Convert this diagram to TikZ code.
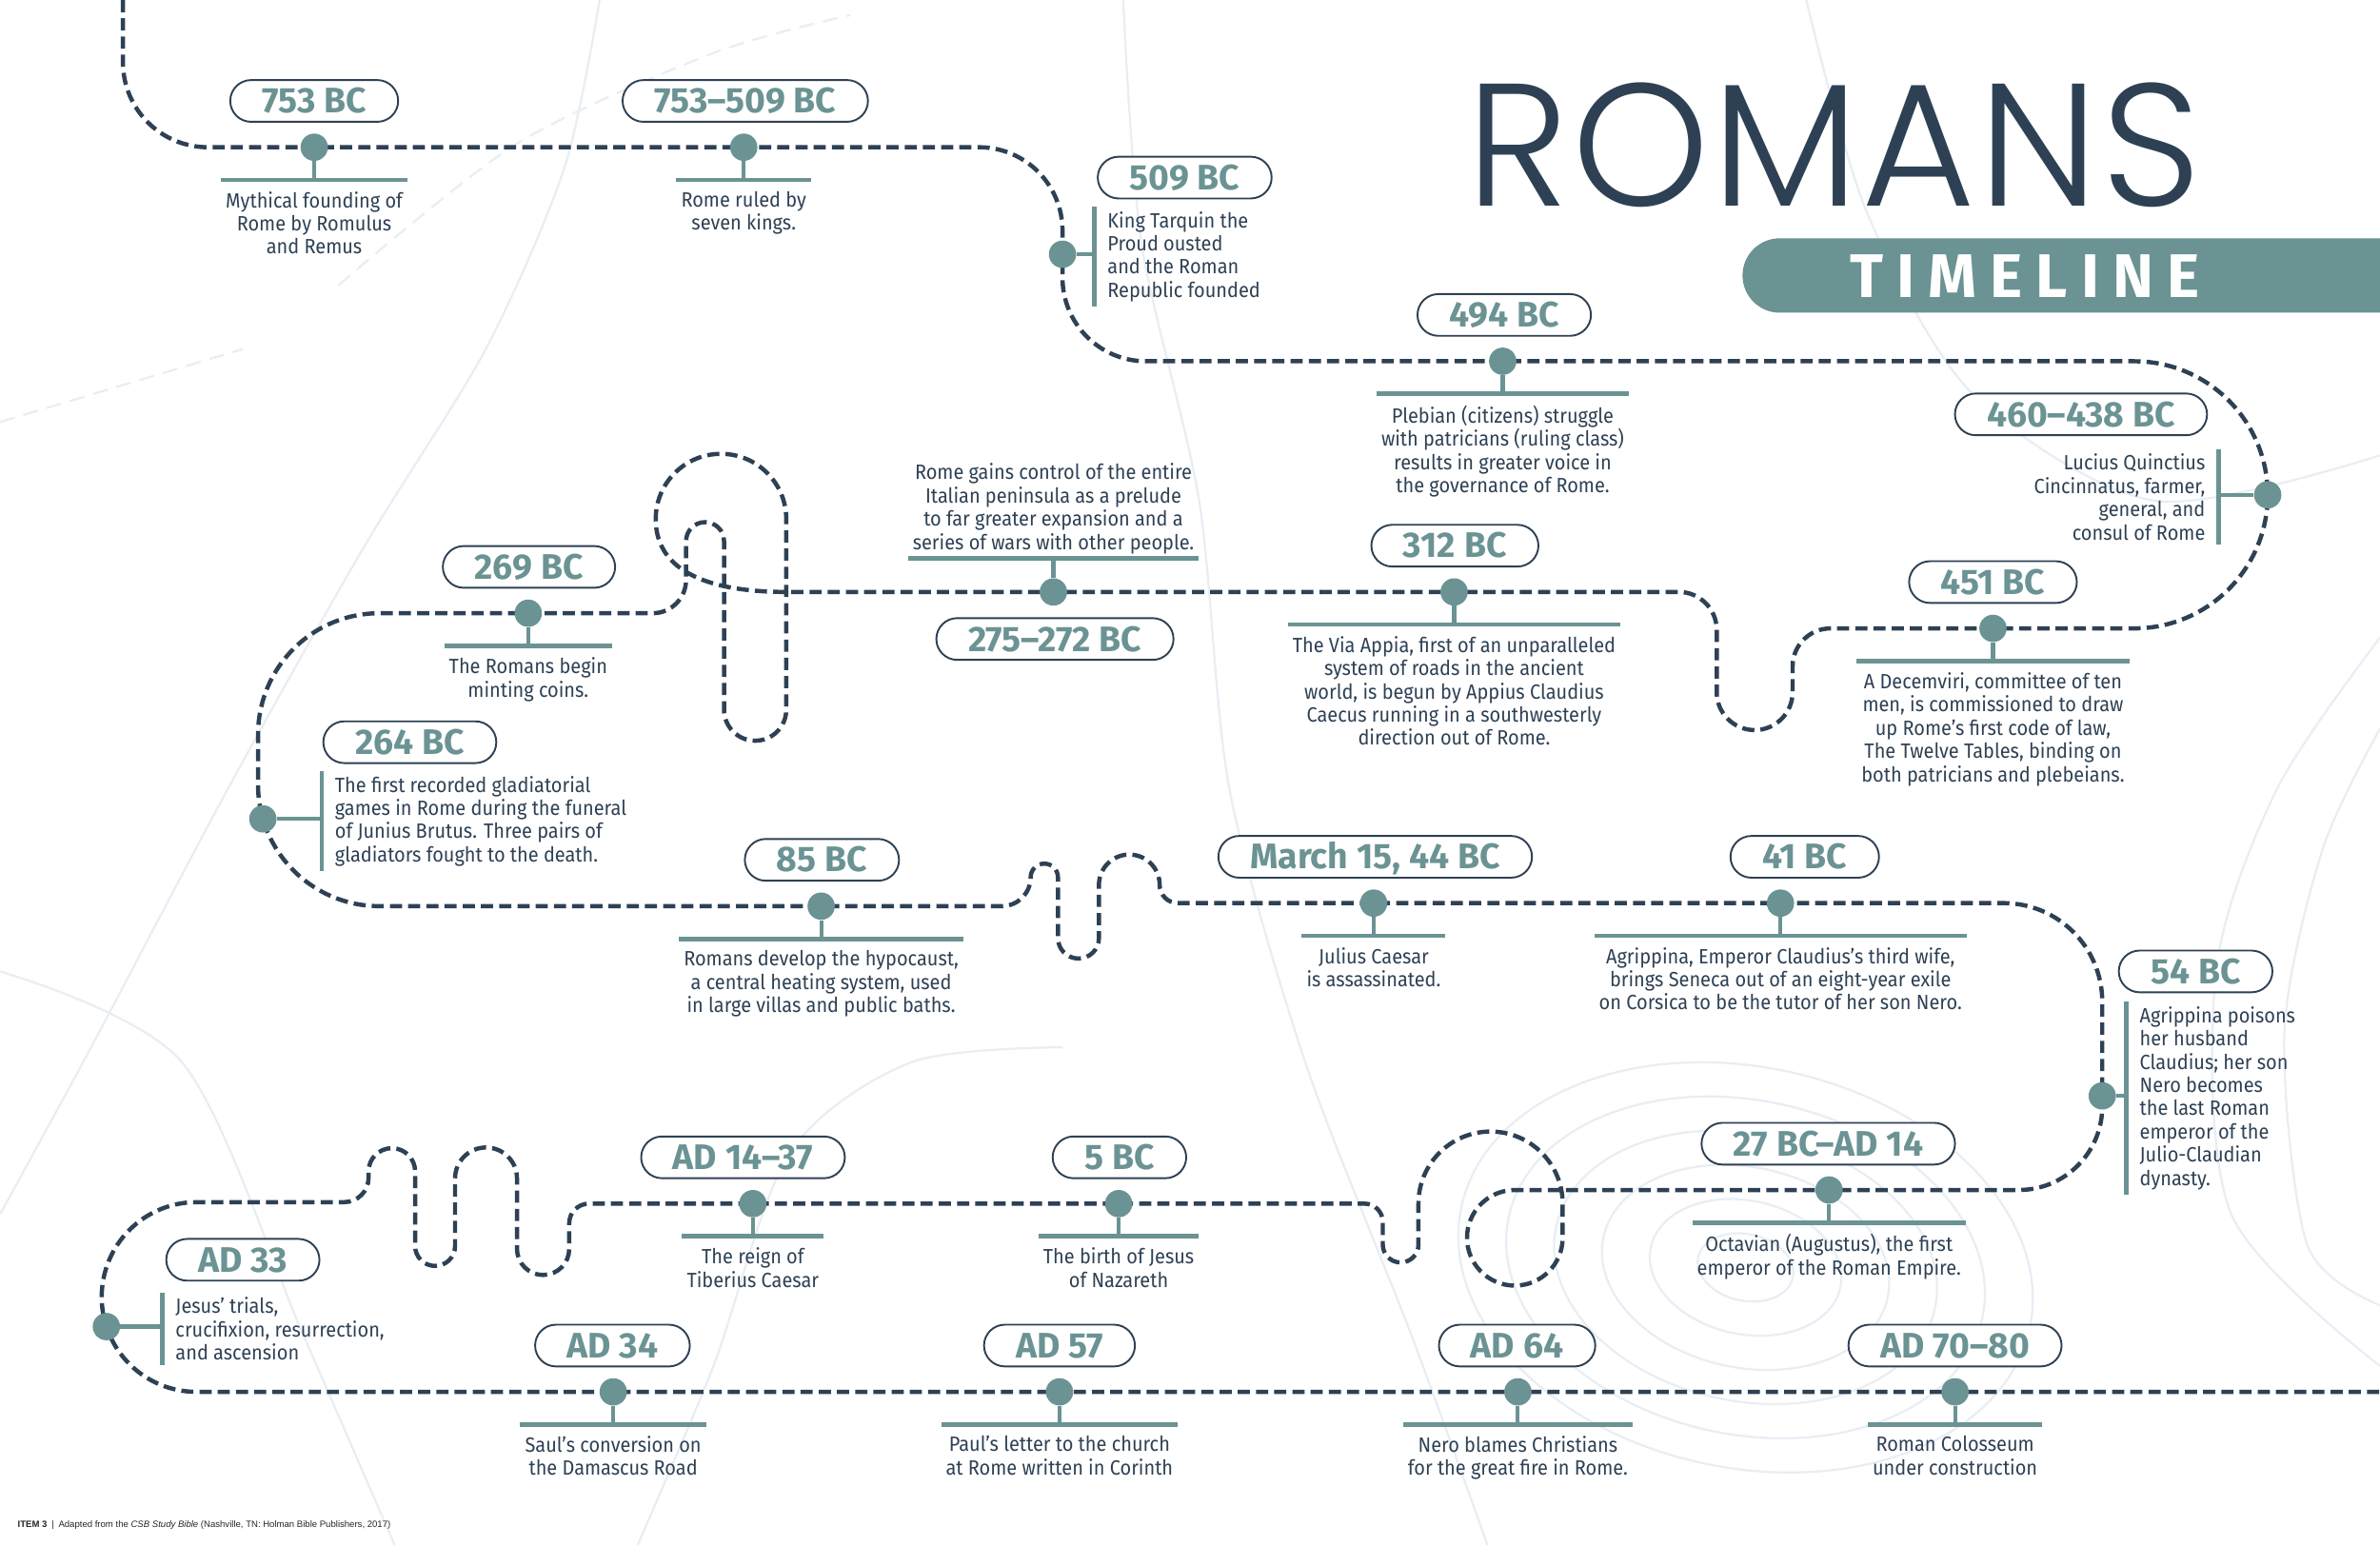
\documentclass[tikz,border=0pt]{standalone}
\usepackage{fontspec}
\setmainfont{Fira Sans}
\newfontfamily\bodyfont{Fira Sans}[FakeStretch=0.92]
\newfontfamily\bannerfont{Fira Sans}[LetterSpace=22]
\newfontfamily\titlefont{Poppins Light}[LetterSpace=1.6]
\newfontfamily\notefont{Liberation Sans}

\definecolor{trailblue}{HTML}{2E4154}
\definecolor{markteal}{HTML}{6B9393}
\definecolor{contourblue}{HTML}{E8EEF4}

\tikzset{
    trail/.style={draw=trailblue, line width=2.8pt, dash pattern=on 8pt off 4pt},
    dot/.style={circle, fill=markteal, inner sep=0pt, minimum size=18pt},
    stem/.style={draw=markteal, line width=2.6pt},
    bar/.style={draw=markteal, line width=3pt, shorten <=-3pt, shorten >=-3pt},
    date/.style={draw=trailblue, line width=1.2pt, fill=white, rounded corners=13.75pt,
        minimum height=27.5pt, inner xsep=21pt, inner ysep=0pt, text height=16pt,
        text depth=0pt, text=markteal, font=\fontsize{23.4}{24}\selectfont\bfseries},
    desc/.style={inner sep=0pt, text=trailblue, font=\bodyfont\fontsize{13.6}{15.3}\selectfont},
    contour/.style={draw=contourblue, line width=1.4pt},
}
% event with its text under the trail
\newcommand{\eventbelow}[6]{
    \node[dot] (m#1) at (#2,#3) {};
    \node[date] (d#1) at (#4,#3-30.5) {#5};
    \coordinate (b#1) at (#2,#3+21.5);
    \node[desc, align=center, anchor=north] (t#1) at (#2,#3+29) {#6};
    \draw[stem] (m#1.south) -- (b#1);
    \draw[bar] (t#1.west |- b#1) -- (t#1.east |- b#1);
}
% event with its text to the right of the trail
\newcommand{\eventright}[8]{
    \node[dot] (m#1) at (#2,#3) {};
    \node[date] (d#1) at (#5,#6) {#7};
    \coordinate (b#1) at (#4,#3);
    \node[desc, align=left, anchor=west] (t#1) at (#4+8.5,#3+1.5) {#8};
    \draw[stem] (m#1.east) -- (b#1);
    \draw[bar] (b#1 |- t#1.north) -- (b#1 |- t#1.south);
}

\begin{document}
\begin{tikzpicture}[x=1pt, y=-1pt]

    \fill[white] (0,0) rectangle (1568,1018);
    \useasboundingbox (0,0) rectangle (1568,1018);

    % faint map contours
    \foreach \r in {22,44,...,132} {
        \draw[contour, rotate around={-12:(1150,835)}] (1150,835) ellipse[x radius=1.45*\r pt, y radius=\r pt];
    }
    \draw[contour] plot[smooth] coordinates {(395,0) (372,110) (320,230) (240,360) (150,520) (60,690) (0,800)};
    \draw[contour] plot[smooth] coordinates {(740,0) (752,160) (790,330) (810,520) (860,700) (930,880) (980,1018)};
    \draw[contour] plot[smooth] coordinates {(1190,0) (1230,140) (1300,260) (1420,330) (1568,300)};
    \draw[contour] plot[smooth] coordinates {(1568,420) (1500,520) (1460,640) (1470,800) (1568,900)};
    \draw[contour] plot[smooth] coordinates {(1568,480) (1530,560) (1505,680) (1520,820) (1568,860)};
    \draw[contour] plot[smooth] coordinates {(0,640) (120,700) (200,880) (260,1018)};
    \draw[contour] plot[smooth] coordinates {(420,1018) (470,900) (520,760) (600,700) (700,690)};
    \draw[contour, dash pattern=on 10pt off 6pt] plot[smooth] coordinates {(0,278) (160,230)};
    \draw[contour, dash pattern=on 10pt off 6pt] plot[smooth] coordinates {(223,188) (340,95) (470,35) (560,10)};

    % the winding trail
    \draw[trail] (81,0) -- (81,41) arc[start angle=180, end angle=270, radius=56pt]
        -- (645,97) arc[start angle=90, end angle=0, radius=55pt]
        -- (700,183) arc[start angle=180, end angle=270, radius=55pt]
        -- (1406,238) arc[start angle=90, end angle=-90, radius=88pt]
        -- (1206,414) arc[start angle=90, end angle=180, radius=25pt]
        -- (1181,456) arc[start angle=0, end angle=-180, radius=25pt]
        -- (1131,415) arc[start angle=0, end angle=90, radius=25pt]
        -- (518,390) .. controls (470,390) and (432,378) .. (432,342)
        arc[start angle=180, end angle=0, radius=43pt]
        -- (518,467.5) arc[start angle=0, end angle=-180, radius=20.5pt]
        -- (477,356.5) arc[start angle=0, end angle=180, radius=12.5pt]
        -- (452,382) arc[start angle=0, end angle=-90, radius=22pt]
        -- (250,404) arc[start angle=90, end angle=180, radius=80pt]
        -- (170,517) arc[start angle=180, end angle=270, radius=80pt]
        -- (660,597) arc[start angle=-90, end angle=0, radius=19pt]
        arc[start angle=180, end angle=0, radius=9pt]
        -- (697,618) arc[start angle=180, end angle=360, radius=13.5pt]
        -- (724,583) arc[start angle=180, end angle=0, radius=20pt]
        arc[start angle=180, end angle=270, radius=12pt]
        -- (1320,595) arc[start angle=90, end angle=0, radius=65pt]
        -- (1385,729) arc[start angle=0, end angle=-90, radius=55pt]
        -- (998,784) arc[start angle=90, end angle=360, radius=31.5pt]
        -- (1029.5,793) arc[start angle=0, end angle=180, radius=47.5pt]
        -- (934.5,820) arc[start angle=0, end angle=-180, radius=11.75pt]
        -- (911,805) arc[start angle=0, end angle=90, radius=12pt]
        -- (388,793) arc[start angle=90, end angle=180, radius=13pt]
        -- (375,822.8) arc[start angle=0, end angle=-180, radius=17.2pt]
        -- (340.6,776.4) arc[start angle=0, end angle=180, radius=20.4pt]
        -- (299.8,820.9) arc[start angle=0, end angle=-180, radius=13.15pt]
        -- (273.5,771.8) arc[start angle=0, end angle=180, radius=15.35pt]
        -- (242.8,776) arc[start angle=0, end angle=-90, radius=16pt]
        -- (129.5,792) arc[start angle=90, end angle=270, radius=62.5pt]
        -- (1580,917);

    % title
    \node[anchor=base west, inner sep=0pt, text depth=0pt, text=trailblue, font=\titlefont\fontsize{115}{115}\selectfont] (title) at (966,136) {ROMANS};
    \fill[markteal] (1568,157) -- (1172.5,157) arc[start angle=90, end angle=270, radius=24.5pt] -- (1568,206) -- cycle;
    \node[anchor=base, inner sep=0pt, text depth=0pt, text=white, font=\bannerfont\fontsize{40.6}{41}\selectfont\bfseries] (banner) at (1334,196) {TIMELINE};

    % events along the trail
    \eventbelow{founding}{207}{97}{207}{753 BC}{Mythical founding of\\Rome by Romulus\\and Remus}
    \eventbelow{kings}{490}{97}{491}{753–509 BC}{Rome ruled by\\seven kings.}
    \eventright{republic}{700}{167.5}{721}{780.5}{117}{509 BC}{King Tarquin the\\Proud ousted\\and the Roman\\Republic founded}
    \eventbelow{plebs}{990}{238}{991}{494 BC}{Plebian (citizens) struggle\\with patricians (ruling class)\\results in greater voice in\\the governance of Rome.}

    \node[dot] (mcinc) at (1494,326) {};
    \node[date] (dcinc) at (1371,273) {460–438 BC};
    \coordinate (bcinc) at (1461.5,326);
    \node[desc, align=right, anchor=east] (tcinc) at (1453,327.5) {Lucius Quinctius\\Cincinnatus, farmer,\\general, and\\consul of Rome};
    \draw[stem] (mcinc.west) -- (bcinc);
    \draw[bar] (bcinc |- tcinc.north) -- (bcinc |- tcinc.south);

    \eventbelow{decemviri}{1313}{414}{1313}{451 BC}{A Decemviri, committee of ten\\men, is commissioned to draw\\up Rome’s first code of law,\\The Twelve Tables, binding on\\both patricians and plebeians.}
    \eventbelow{appia}{958}{390}{958.5}{312 BC}{The Via Appia, first of an unparalleled\\system of roads in the ancient\\world, is begun by Appius Claudius\\Caecus running in a southwesterly\\direction out of Rome.}

    \node[dot] (mitaly) at (694,390) {};
    \node[date] (ditaly) at (695,421) {275–272 BC};
    \coordinate (bitaly) at (694,368);
    \node[desc, align=center, anchor=south] (titaly) at (694,365) {Rome gains control of the entire\\Italian peninsula as a prelude\\to far greater expansion and a\\series of wars with other people.};
    \draw[stem] (mitaly.north) -- (bitaly);
    \draw[bar] (titaly.west |- bitaly) -- (titaly.east |- bitaly);

    \eventbelow{coins}{348}{404}{348.5}{269 BC}{The Romans begin\\minting coins.}
    \eventright{games}{173.2}{539.5}{212}{270}{489}{264 BC}{The first recorded gladiatorial\\games in Rome during the funeral\\of Junius Brutus. Three pairs of\\gladiators fought to the death.}
    \eventbelow{hypocaust}{541}{597}{541.5}{85 BC}{Romans develop the hypocaust,\\a central heating system, used\\in large villas and public baths.}
    \eventbelow{caesar}{905}{595}{906}{March 15, 44 BC}{Julius Caesar\\is assassinated.}
    \eventbelow{seneca}{1173}{595}{1189}{41 BC}{Agrippina, Emperor Claudius’s third wife,\\brings Seneca out of an eight-year exile\\on Corsica to be the tutor of her son Nero.}
    \eventright{claudius}{1385}{722}{1401}{1446.5}{640}{54 BC}{Agrippina poisons\\her husband\\Claudius; her son\\Nero becomes\\the last Roman\\emperor of the\\Julio-Claudian\\dynasty.}
    \eventbelow{octavian}{1205}{784}{1204.5}{27 BC–AD 14}{Octavian (Augustus), the first\\emperor of the Roman Empire.}
    \eventbelow{nativity}{737}{793}{737.5}{5 BC}{The birth of Jesus\\of Nazareth}
    \eventbelow{tiberius}{496}{793}{489.5}{AD 14–37}{The reign of\\Tiberius Caesar}
    \eventright{passion}{70.1}{874}{107}{160}{830}{AD 33}{Jesus’ trials,\\crucifixion, resurrection,\\and ascension}
    \eventbelow{saul}{404}{917}{403.5}{AD 34}{Saul’s conversion on\\the Damascus Road}
    \eventbelow{letter}{698}{917}{698}{AD 57}{Paul’s letter to the church\\at Rome written in Corinth}
    \eventbelow{fire}{1000}{917}{999.5}{AD 64}{Nero blames Christians\\for the great fire in Rome.}
    \eventbelow{colosseum}{1288}{917}{1288}{AD 70–80}{Roman Colosseum\\under construction}

    % source line
    \node[anchor=base west, inner sep=0pt, text=black!85, font=\notefont\fontsize{6}{6.5}\selectfont] (source) at (11.5,1006.6) {\textbf{ITEM 3}\enspace|\enspace Adapted from the \textit{CSB Study Bible} (Nashville, TN: Holman Bible Publishers, 2017)};

\end{tikzpicture}
\end{document}
